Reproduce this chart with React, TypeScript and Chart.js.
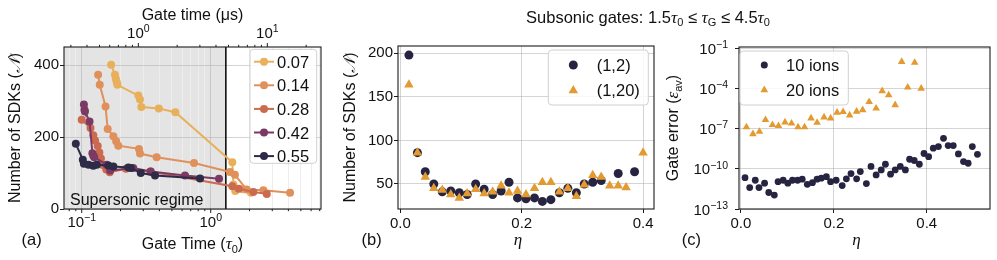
import React, { useEffect, useRef } from "react";
import { Chart, registerables } from "chart.js";
Chart.register(...registerables);

const SANS = "'Liberation Sans', Arial, 'DejaVu Sans', sans-serif";
const SERIF = "'Liberation Serif', 'DejaVu Serif', serif";
const AX = "#1c1c1c";
const GRID = "rgba(176,176,176,0.55)";
const GRID_MINOR = "#ededed";

// ---------------- Panel (a) data ----------------
const etaLabelsA = ["0.07", "0.14", "0.28", "0.42", "0.55"];
const colorsA = ["#e9b05c", "#e0905a", "#cc6a50", "#7b3a63", "#2d2b47"];
const tau007 = [0.169, 0.181, 0.184, 0.187, 0.189, 0.275, 0.283, 0.29, 0.396, 0.532, 1.47, 1.5, 1.55, 1.78, 2.05];
const sdk007 = [401, 373, 361, 352, 345, 315, 304, 283, 279, 269, 130, 68, 50, 55, 45];
const tau014 = [0.134, 0.138, 0.153, 0.159, 0.176, 0.185, 0.192, 0.278, 0.283, 0.381, 0.742, 1.41, 1.54, 1.9, 2.56, 4.12];
const sdk014 = [373, 345, 285, 222, 202, 188, 176, 167, 154, 144, 128, 103, 95, 54, 52, 45];
const tau028 = [0.1, 0.117, 0.123, 0.127, 0.133, 0.137, 0.141, 0.146, 0.155, 0.165, 0.22, 0.34, 1.47, 1.65, 2.14, 2.72];
const sdk028 = [248, 225, 205, 190, 175, 157, 140, 122, 110, 102, 112, 104, 63, 56, 47, 42];
const tau042 = [0.104, 0.105, 0.106, 0.115, 0.121, 0.123, 0.125, 0.156, 0.166, 0.251, 0.343, 0.632, 1.16];
const sdk042 = [290, 276, 271, 243, 155, 148, 144, 123, 107, 114, 104, 93, 84];
const tau055 = [0.09, 0.102, 0.104, 0.113, 0.123, 0.131, 0.161, 0.176, 0.23, 0.24, 0.287, 0.37, 0.826];
const sdk055 = [181, 137, 126, 123, 120, 123, 121, 118, 115, 114, 100, 93, 85];
const tauA = [tau007, tau014, tau028, tau042, tau055];
const sdkA = [sdk007, sdk014, sdk028, sdk042, sdk055];
const yTicksA = [0, 200, 400];
const xMajorA = [0.1, 1];
const xMajorLabelsA = ["−1", "0"];
const xMinorA = [0.08, 0.09, 0.2, 0.3, 0.4, 0.5, 0.6, 0.7, 0.8, 0.9, 2, 3, 4, 5, 6, 7];
const topMajorA = [1, 10];
const topMajorLabelsA = ["0", "1"];
const topMinorA = [0.3, 0.4, 0.5, 0.6, 0.7, 0.8, 0.9, 2, 3, 4, 5, 6, 7, 8, 9, 20];
const supersonicLimit = 1.31;
const usPerTau = 3.64;

// ---------------- Panel (b) data ----------------
const legendB = ["(1,2)", "(1,20)"];
const etaB = [0.014, 0.028, 0.041, 0.055, 0.069, 0.083, 0.097, 0.11, 0.124, 0.138, 0.152, 0.166, 0.179, 0.193, 0.207, 0.221, 0.234, 0.248, 0.262, 0.276, 0.29, 0.303, 0.317, 0.331, 0.345, 0.359, 0.372, 0.386, 0.4];
const sdkB12 = [198, 86, 64, 50, 41, 42, 40, 38, 50, 44, 38, 42, 52, 34, 33, 34, 30, 32, 40, 45, 40, 50, 52, 54, null, 62, null, 64, null];
const sdkB120 = [164, 86, 58, 45, 43, 38, 34, 39, 44, 39, 41, 48, 40, 42, 38, 45, 52, 52, 41, 45, 36, 49, 60, 58, 48, 48, 46, null, 86];
const xTicksB = [0, 0.2, 0.4];
const xTickLabelsB = ["0.0", "0.2", "0.4"];
const yTicksB = [50, 100, 150, 200];

// ---------------- Panel (c) data ----------------
const legendC = ["10 ions", "20 ions"];
const etaC10 = [0.009, 0.019, 0.031, 0.039, 0.051, 0.06, 0.072, 0.08, 0.091, 0.101, 0.111, 0.122, 0.132, 0.143, 0.154, 0.164, 0.173, 0.184, 0.193, 0.205, 0.218, 0.227, 0.237, 0.249, 0.257, 0.27, 0.28, 0.291, 0.302, 0.311, 0.322, 0.332, 0.343, 0.354, 0.363, 0.373, 0.384, 0.394, 0.404, 0.414, 0.425, 0.436, 0.446, 0.457, 0.468, 0.479, 0.489, 0.498, 0.509];
const errC10 = [2.2e-11, 4.0e-12, 1.4e-11, 4.0e-12, 8.5e-12, 1.7e-12, 1.1e-12, 1.1e-11, 1.4e-11, 8.5e-12, 1.4e-11, 1.4e-11, 1.7e-11, 7.0e-12, 9.3e-12, 1.7e-11, 2.0e-11, 2.6e-11, 1.1e-11, 1.4e-11, 5.6e-12, 1.8e-11, 4.4e-11, 1.8e-11, 6.2e-11, 7.9e-12, 1.5e-10, 3.5e-11, 8.3e-11, 2.2e-10, 4.0e-11, 8.3e-11, 1.5e-10, 8.3e-11, 5.2e-10, 4.2e-10, 2.2e-10, 1.4e-9, 8.1e-10, 3.5e-9, 4.6e-9, 1.9e-8, 5.4e-9, 5.4e-9, 1.3e-9, 3.5e-10, 2.6e-10, 4.6e-9, 1.2e-9];
const etaC20 = [0.012, 0.026, 0.04, 0.053, 0.068, 0.081, 0.095, 0.109, 0.123, 0.137, 0.151, 0.164, 0.179, 0.193, 0.207, 0.22, 0.234, 0.249, 0.262, 0.276, 0.291, 0.304, 0.318, 0.332, 0.346, 0.359, 0.374, 0.388];
const errC20 = [1.3e-7, 4.0e-8, 6.0e-8, 4.5e-7, 1.9e-7, 1.6e-7, 3.0e-7, 2.5e-7, 1.3e-7, 1.3e-7, 6.0e-7, 2.8e-7, 7.1e-7, 6.0e-7, 1.6e-6, 1.8e-6, 1.0e-6, 1.9e-6, 2.5e-6, 1.0e-5, 3.3e-6, 6.5e-5, 3.2e-5, 5.9e-6, 1.0e-2, 1.2e-4, 8.5e-3, 1.0e-4];
const xTicksC = [0, 0.2, 0.4];
const xTickLabelsC = ["0.0", "0.2", "0.4"];
const yTicksC = [1e-13, 1e-10, 1e-7, 1e-4, 1e-1];
const yTickExpC = ["−13", "−10", "−7", "−4", "−1"];

const NAVY = "#262440";
const ORANGE = "#e39a30";

// ---------------- helpers ----------------
type Seg = { t: string; size?: number; fam?: string; it?: boolean; dy?: number };
function drawRich(ctx: CanvasRenderingContext2D, segs: Seg[], x: number, y: number, align: "left" | "center" | "right", rot = 0, color = "#111") {
  ctx.save();
  ctx.translate(x, y);
  ctx.rotate(rot);
  ctx.textBaseline = "alphabetic";
  ctx.textAlign = "left";
  ctx.fillStyle = color;
  const fonts = segs.map((s) => `${s.it ? "italic " : ""}${s.size ?? 16}px ${s.fam ?? SANS}`);
  const widths = segs.map((s, i) => {
    ctx.font = fonts[i];
    return ctx.measureText(s.t).width;
  });
  const total = widths.reduce((a, b) => a + b, 0);
  let cx = align === "center" ? -total / 2 : align === "right" ? -total : 0;
  segs.forEach((s, i) => {
    ctx.font = fonts[i];
    ctx.fillText(s.t, cx, s.dy ?? 0);
    cx += widths[i];
  });
  ctx.restore();
}
function pow10(exp: string): Seg[] {
  return [{ t: "10", size: 15 }, { t: exp, size: 10.5, dy: -5.8 }];
}
function frame(ctx: CanvasRenderingContext2D, ca: any) {
  ctx.save();
  ctx.strokeStyle = AX;
  ctx.lineWidth = 1.1;
  ctx.strokeRect(ca.left, ca.top, ca.right - ca.left, ca.bottom - ca.top);
  ctx.restore();
}
function legendBox(ctx: CanvasRenderingContext2D, x0: number, y0: number, x1: number, y1: number) {
  ctx.save();
  ctx.beginPath();
  (ctx as any).roundRect(x0, y0, x1 - x0, y1 - y0, 3.5);
  ctx.fillStyle = "rgba(255,255,255,0.85)";
  ctx.fill();
  ctx.strokeStyle = "#d0d0d0";
  ctx.lineWidth = 1;
  ctx.stroke();
  ctx.restore();
}
function marker(ctx: CanvasRenderingContext2D, style: string, x: number, y: number, r: number, color: string) {
  ctx.save();
  ctx.fillStyle = color;
  ctx.beginPath();
  if (style === "triangle") {
    for (let k = 0; k < 3; k++) {
      const a = (k * 2 * Math.PI) / 3;
      const px = x + Math.sin(a) * r;
      const py = y - Math.cos(a) * r;
      if (k === 0) ctx.moveTo(px, py);
      else ctx.lineTo(px, py);
    }
    ctx.closePath();
  } else {
    ctx.arc(x, y, r, 0, Math.PI * 2);
  }
  ctx.fill();
  ctx.restore();
}
function logTickList(major: number[], minor: number[]) {
  return [...major.map((v) => ({ value: v, major: true })), ...minor.map((v) => ({ value: v, major: false }))].sort((a, b) => a.value - b.value);
}
const fixW = (w: number) => (s: any) => {
  s.width = w;
};
const fixH = (h: number) => (s: any) => {
  s.height = h;
};
const tickFont = { family: SANS, size: 15 };

// ---------------- Panel (a) ----------------
function cfgA(): any {
  const plugin = {
    id: "pa",
    beforeDraw(chart: any) {
      const { ctx, chartArea: ca, scales } = chart;
      const xr = scales.x.getPixelForValue(supersonicLimit);
      ctx.save();
      ctx.fillStyle = "#e4e4e4";
      ctx.fillRect(ca.left, ca.top, xr - ca.left, ca.bottom - ca.top);
      ctx.restore();
    },
    beforeDatasetsDraw(chart: any) {
      const { ctx, chartArea: ca, scales } = chart;
      const xr = scales.x.getPixelForValue(supersonicLimit);
      ctx.save();
      ctx.strokeStyle = "#111";
      ctx.lineWidth = 1.6;
      ctx.beginPath();
      ctx.moveTo(xr, ca.top);
      ctx.lineTo(xr, ca.bottom);
      ctx.stroke();
      ctx.restore();
    },
    afterDatasetsDraw(chart: any) {
      const { ctx } = chart;
      drawRich(ctx, [{ t: "Supersonic regime", size: 16 }], 70, 205, "left");
    },
    afterDraw(chart: any) {
      const { ctx, chartArea: ca, scales } = chart;
      frame(ctx, ca);
      // tick marks bottom/top
      ctx.save();
      ctx.strokeStyle = AX;
      ctx.lineWidth = 1;
      for (const t of scales.x.ticks) {
        const px = scales.x.getPixelForValue(t.value);
        const len = t.major ? 4 : 2.2;
        ctx.beginPath();
        ctx.moveTo(px, ca.bottom);
        ctx.lineTo(px, ca.bottom + len);
        ctx.stroke();
      }
      for (const t of scales.x2.ticks) {
        const px = scales.x2.getPixelForValue(t.value);
        const len = t.major ? 4 : 2.2;
        ctx.beginPath();
        ctx.moveTo(px, ca.top);
        ctx.lineTo(px, ca.top - len);
        ctx.stroke();
      }
      ctx.restore();
      xMajorA.forEach((v, i) => drawRich(ctx, pow10(xMajorLabelsA[i]), scales.x.getPixelForValue(v), ca.bottom + 18, "center"));
      topMajorA.forEach((v, i) => drawRich(ctx, pow10(topMajorLabelsA[i]), scales.x2.getPixelForValue(v), ca.top - 9, "center"));
      const cx = (ca.left + ca.right) / 2;
      drawRich(ctx, [{ t: "Gate time (μs)" }], cx, 19.5, "center");
      drawRich(ctx, [{ t: "Gate Time (" }, { t: "τ", fam: SERIF, it: true, size: 17 }, { t: "0", size: 11, dy: 3.5 }, { t: ")" }], cx, 249, "center");
      drawRich(ctx, [{ t: "Number of SDKs (" }, { t: "𝒩", fam: SERIF, it: true }, { t: ")" }], 20, (ca.top + ca.bottom) / 2, "center", -Math.PI / 2);
      drawRich(ctx, [{ t: "(a)", size: 16.5 }], 21.5, 245, "left");
      // legend
      legendBox(ctx, 250, 49.3, 316.7, 163.3);
      etaLabelsA.forEach((lab, i) => {
        const y = 61.7 + 23.6 * i;
        ctx.save();
        ctx.strokeStyle = colorsA[i];
        ctx.lineWidth = 2;
        ctx.beginPath();
        ctx.moveTo(254, y);
        ctx.lineTo(274, y);
        ctx.stroke();
        ctx.restore();
        marker(ctx, "circle", 264, y, 4, colorsA[i]);
        drawRich(ctx, [{ t: lab, size: 16.5 }], 277, y + 6, "left");
      });
    },
  };
  return {
    type: "line",
    data: {
      datasets: tauA.map((xs, i) => ({
        label: etaLabelsA[i],
        data: xs.map((x, j) => ({ x, y: sdkA[i][j] })),
        borderColor: colorsA[i],
        backgroundColor: colorsA[i],
        pointBackgroundColor: colorsA[i],
        pointBorderWidth: 0,
        borderWidth: 2,
        pointRadius: 4,
        tension: 0,
        xAxisID: "x",
        yAxisID: "y",
        order: tauA.length - i,
      })),
    },
    options: {
      animation: false,
      responsive: false,
      events: [],
      layout: { padding: { left: 0, right: 9, top: 0, bottom: 0 } },
      plugins: { legend: { display: false }, tooltip: { enabled: false } },
      scales: {
        x: {
          type: "logarithmic",
          position: "bottom",
          min: 0.0729,
          max: 7.16,
          bounds: "data",
          afterBuildTicks: (s: any) => {
            s.ticks = logTickList(xMajorA, xMinorA);
          },
          ticks: { callback: () => "", autoSkip: false, font: tickFont },
          grid: { color: (c: any) => (c.tick && c.tick.major ? GRID : GRID_MINOR), drawTicks: false, lineWidth: 1 },
          border: { display: false },
          afterFit: fixH(51),
        },
        x2: {
          type: "logarithmic",
          position: "top",
          min: 0.0729 * usPerTau,
          max: 7.16 * usPerTau,
          bounds: "data",
          afterBuildTicks: (s: any) => {
            s.ticks = logTickList(topMajorA, topMinorA);
          },
          ticks: { callback: () => "", autoSkip: false, font: tickFont },
          grid: { drawOnChartArea: false, drawTicks: false },
          border: { display: false },
          afterFit: fixH(47),
        },
        y: {
          type: "linear",
          min: 0,
          max: 450,
          afterBuildTicks: (s: any) => {
            s.ticks = yTicksA.map((v) => ({ value: v }));
          },
          ticks: { font: tickFont, color: "#111", padding: 1 },
          grid: { color: GRID, tickColor: AX, tickLength: 4 },
          border: { display: false },
          afterFit: fixW(64),
        },
      },
    },
    plugins: [plugin],
  };
}

// ---------------- Panel (b) ----------------
function cfgB(): any {
  const plugin = {
    id: "pb",
    afterDraw(chart: any) {
      const { ctx, chartArea: ca } = chart;
      frame(ctx, ca);
      drawRich(ctx, [{ t: "Number of SDKs (" }, { t: "𝒩", fam: SERIF, it: true }, { t: ")" }], 25, (ca.top + ca.bottom) / 2, "center", -Math.PI / 2);
      drawRich(ctx, [{ t: "η", fam: SERIF, it: true, size: 17 }], (ca.left + ca.right) / 2 - 8, 245, "center");
      drawRich(ctx, [{ t: "(b)", size: 16.5 }], 31.5, 245, "left");
      legendBox(ctx, 218.3, 50, 318.3, 105);
      marker(ctx, "circle", 243.3, 65, 4.5, NAVY);
      marker(ctx, "triangle", 243.3, 90.5, 5.5, ORANGE);
      drawRich(ctx, [{ t: legendB[0], size: 16.5 }], 266.7, 71, "left");
      drawRich(ctx, [{ t: legendB[1], size: 16.5 }], 266.7, 96, "left");
    },
  };
  const pts = (ys: (number | null)[]) => etaB.map((x, i) => ({ x, y: ys[i] })).filter((p) => p.y !== null);
  return {
    type: "scatter",
    data: {
      datasets: [
        { label: legendB[0], data: pts(sdkB12), pointStyle: "circle", pointRadius: 4.5, backgroundColor: NAVY, borderWidth: 0, order: 1 },
        { label: legendB[1], data: pts(sdkB120), pointStyle: "triangle", pointRadius: 5.5, backgroundColor: ORANGE, borderWidth: 0, order: 0 },
      ],
    },
    options: {
      animation: false,
      responsive: false,
      events: [],
      layout: { padding: { left: 0, right: 6, top: 46, bottom: 0 } },
      plugins: { legend: { display: false }, tooltip: { enabled: false } },
      scales: {
        x: {
          type: "linear",
          min: -0.004,
          max: 0.418,
          afterBuildTicks: (s: any) => {
            s.ticks = xTicksB.map((v) => ({ value: v }));
          },
          ticks: { font: tickFont, color: "#111", padding: 2, callback: (_v: any, i: number) => xTickLabelsB[i] },
          grid: { color: GRID, tickColor: AX, tickLength: 4 },
          border: { display: false },
          afterFit: fixH(51),
        },
        y: {
          type: "linear",
          min: 21.3,
          max: 208.4,
          afterBuildTicks: (s: any) => {
            s.ticks = yTicksB.map((v) => ({ value: v }));
          },
          ticks: { font: tickFont, color: "#111", padding: 1 },
          grid: { color: GRID, tickColor: AX, tickLength: 4 },
          border: { display: false },
          afterFit: fixW(68),
        },
      },
    },
    plugins: [plugin],
  };
}

// ---------------- Panel (c) ----------------
function cfgC(): any {
  const plugin = {
    id: "pc",
    afterDraw(chart: any) {
      const { ctx, chartArea: ca, scales } = chart;
      frame(ctx, ca);
      yTicksC.forEach((v, i) => drawRich(ctx, pow10(yTickExpC[i]), ca.left - 11, scales.y.getPixelForValue(v) + 5.5, "right"));
      drawRich(ctx, [{ t: "Gate error (" }, { t: "ε", fam: SERIF, it: true, size: 17 }, { t: "av", size: 11, dy: 3.5 }, { t: ")" }], 18, (ca.top + ca.bottom) / 2, "center", -Math.PI / 2);
      drawRich(ctx, [{ t: "η", fam: SERIF, it: true, size: 17 }], (ca.left + ca.right) / 2 - 8, 245, "center");
      drawRich(ctx, [{ t: "(c)", size: 16.5 }], 21.7, 245, "left");
      legendBox(ctx, 80, 51, 188.3, 105);
      marker(ctx, "circle", 104.3, 65, 3.5, NAVY);
      marker(ctx, "triangle", 104.3, 90, 4.5, ORANGE);
      drawRich(ctx, [{ t: legendC[0], size: 16.5 }], 126, 71, "left");
      drawRich(ctx, [{ t: legendC[1], size: 16.5 }], 126, 95.5, "left");
    },
  };
  return {
    type: "scatter",
    data: {
      datasets: [
        { label: legendC[0], data: etaC10.map((x, i) => ({ x, y: errC10[i] })), pointStyle: "circle", pointRadius: 3.4, backgroundColor: NAVY, borderWidth: 0, order: 1 },
        { label: legendC[1], data: etaC20.map((x, i) => ({ x, y: errC20[i] })), pointStyle: "triangle", pointRadius: 4.4, backgroundColor: ORANGE, borderWidth: 0, order: 0 },
      ],
    },
    options: {
      animation: false,
      responsive: false,
      events: [],
      layout: { padding: { left: 0, right: 7, top: 47, bottom: 0 } },
      plugins: { legend: { display: false }, tooltip: { enabled: false } },
      scales: {
        x: {
          type: "linear",
          min: -0.004,
          max: 0.536,
          afterBuildTicks: (s: any) => {
            s.ticks = xTicksC.map((v) => ({ value: v }));
          },
          ticks: { font: tickFont, color: "#111", padding: 2, callback: (_v: any, i: number) => xTickLabelsC[i] },
          grid: { color: GRID, tickColor: AX, tickLength: 4 },
          border: { display: false },
          afterFit: fixH(51),
        },
        y: {
          type: "logarithmic",
          min: 1e-13,
          max: 0.125,
          bounds: "data",
          afterBuildTicks: (s: any) => {
            s.ticks = yTicksC.map((v) => ({ value: v, major: true }));
          },
          ticks: { callback: () => "", autoSkip: false, font: tickFont },
          grid: { color: GRID, tickColor: AX, tickLength: 4 },
          border: { display: false },
          afterFit: fixW(79),
        },
      },
    },
    plugins: [plugin],
  };
}

export default function App() {
  const ra = useRef<HTMLCanvasElement>(null);
  const rb = useRef<HTMLCanvasElement>(null);
  const rc = useRef<HTMLCanvasElement>(null);
  useEffect(() => {
    const charts = [new Chart(ra.current!, cfgA()), new Chart(rb.current!, cfgB()), new Chart(rc.current!, cfgC())];
    return () => charts.forEach((c) => c.destroy());
  }, []);
  const sub = { fontSize: 11, position: "relative" as const, top: 3 };
  const tau = { fontFamily: SERIF, fontStyle: "italic", fontSize: 17.5 };
  return (
    <div style={{ position: "absolute", left: 0, top: 0, width: 997, height: 260, background: "#fff", overflow: "hidden" }}>
      <canvas ref={ra} width={330} height={260} style={{ position: "absolute", left: 0, top: 0, width: 330, height: 260 }} />
      <canvas ref={rb} width={330} height={260} style={{ position: "absolute", left: 330, top: 0, width: 330, height: 260 }} />
      <canvas ref={rc} width={337} height={260} style={{ position: "absolute", left: 660, top: 0, width: 337, height: 260 }} />
      <div
        style={{
          position: "absolute",
          left: 648,
          top: 7,
          transform: "translateX(-50%)",
          whiteSpace: "nowrap",
          fontFamily: SANS,
          fontSize: 16.5,
          lineHeight: "20px",
          color: "#111",
        }}
      >
        Subsonic gates: 1.5<span style={tau}>τ</span>
        <span style={sub}>0</span> ≤ <span style={tau}>τ</span>
        <span style={sub}>G</span> ≤ 4.5<span style={tau}>τ</span>
        <span style={sub}>0</span>
      </div>
    </div>
  );
}
